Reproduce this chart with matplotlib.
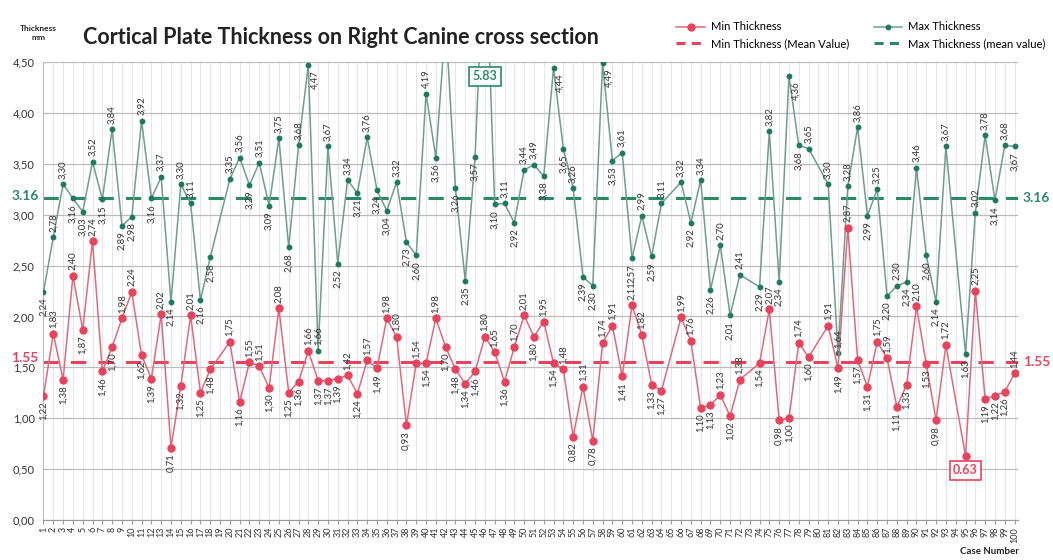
import numpy as np
import matplotlib
matplotlib.use("Agg")
import matplotlib.pyplot as plt
from matplotlib.ticker import FuncFormatter
from matplotlib.lines import Line2D

plt.rcParams['font.family'] = ['Lato', 'DejaVu Sans']

cases = list(range(1, 101))
N = None
# Min thickness (mm), None = no data for that case
min_thickness = [
    1.22, 1.83, 1.38, 2.40, 1.87, 2.74, 1.46, 1.70, 1.98, 2.24,
    1.62, 1.39, 2.02, 0.71, 1.32, 2.01, 1.25, 1.48, N, 1.75,
    1.16, 1.55, 1.51, 1.30, 2.08, 1.25, 1.36, 1.66, 1.37, 1.37,
    1.39, 1.42, 1.24, 1.57, 1.49, 1.98, 1.80, 0.93, 1.54, 1.54,
    1.98, 1.70, 1.48, 1.34, 1.46, 1.80, 1.65, 1.36, 1.70, 2.01,
    1.80, 1.95, 1.54, 1.48, 0.82, 1.31, 0.78, 1.74, 1.91, 1.41,
    2.11, 1.82, 1.33, 1.27, N, 1.99, 1.76, 1.10, 1.13, 1.23,
    1.02, 1.38, N, 1.54, 2.07, 0.98, 1.00, 1.74, 1.60, N,
    1.91, 1.49, 2.87, 1.57, 1.31, 1.75, 1.59, 1.11, 1.33, 2.10,
    1.53, 0.98, 1.72, N, 0.63, 2.25, 1.19, 1.22, 1.26, 1.44,
]
# Max thickness (mm)
max_thickness = [
    2.24, 2.78, 3.30, 3.16, 3.03, 3.52, 3.15, 3.84, 2.89, 2.98,
    3.92, 3.16, 3.37, 2.14, 3.30, 3.11, 2.16, 2.58, N, 3.35,
    3.56, 3.29, 3.51, 3.09, 3.75, 2.68, 3.68, 4.47, 1.66, 3.67,
    2.52, 3.34, 3.21, 3.76, 3.24, 3.04, 3.32, 2.73, 2.60, 4.19,
    3.56, 4.90, 3.26, 2.35, 3.57, 5.83, 3.10, 3.11, 2.92, 3.44,
    3.49, 3.38, 4.44, 3.65, 3.26, 2.39, 2.30, 4.49, 3.53, 3.61,
    2.57, 2.99, 2.59, 3.11, N, 3.32, 2.92, 3.34, 2.26, 2.70,
    2.01, 2.41, N, 2.29, 3.82, 2.34, 4.36, 3.68, 3.65, N,
    3.30, 1.64, 3.28, 3.86, 2.99, 3.25, 2.20, 2.30, 2.34, 3.46,
    2.60, 2.14, 3.67, N, 1.63, 3.02, 3.78, 3.14, 3.68, 3.67,
]
min_mean = 1.55
max_mean = 3.16
y_ticks = [0.0, 0.5, 1.0, 1.5, 2.0, 2.5, 3.0, 3.5, 4.0, 4.5]

RED = '#E8435E'
RED_LINE = '#DD6A7E'
GREEN = '#1E7A58'
GREEN_LINE = '#6E9E8C'
GREEN_DASH = '#2B8A66'

fig = plt.figure(figsize=(10.53, 5.6), dpi=100)
ax = fig.add_axes([43/1053, 40/560, (1018-43)/1053, (520-62)/560])

def valid(series):
    xs = [c for c, v in zip(cases, series) if v is not None]
    ys = [v for v in series if v is not None]
    return xs, ys

xmin, ymin = valid(min_thickness)
xmax, ymax = valid(max_thickness)

ax.plot(xmax, ymax, color=GREEN_LINE, lw=1.1, marker='o', ms=3.2,
        mfc=GREEN, mec=GREEN, zorder=3)
ax.plot(xmin, ymin, color=RED_LINE, lw=1.1, marker='o', ms=5.0,
        mfc=RED, mec=RED, zorder=4)
ax.axhline(max_mean, color=GREEN_DASH, lw=2.2, ls=(0, (5, 4)), zorder=2)
ax.axhline(min_mean, color=RED, lw=2.2, ls=(0, (5, 4)), zorder=2)

def fmt(v):
    return f"{v:.2f}".replace('.', ',')

lowest = min(ymin)
highest = max(ymax)

# label placement overrides (case -> above?) for crowded spots
max_label_above = {29: True, 82: True}
min_label_above = {}

def add_labels(series, overrides):
    for i, v in enumerate(series):
        if v is None or v > 4.5 or v == lowest:
            continue
        prev = next((series[j] for j in range(i-1, -1, -1) if series[j] is not None), v)
        nxt = next((series[j] for j in range(i+1, len(series)) if series[j] is not None), v)
        above = v >= (prev + nxt) / 2
        dx = 0
        if v > 4.3:
            above = False
            dx = 5
        above = overrides.get(cases[i], above)
        ax.annotate(fmt(v), (cases[i], v), xytext=(dx, 4 if above else -4),
                    textcoords='offset points', rotation=90, ha='center',
                    va='bottom' if above else 'top', fontsize=6.8,
                    color='#333333', zorder=6, annotation_clip=False,
                    family=['Liberation Sans Narrow', 'Lato', 'DejaVu Sans'])

add_labels(max_thickness, max_label_above)
add_labels(min_thickness, min_label_above)

ax.set_xlim(0.95, 100.35)
ax.set_ylim(0, 4.5)
ax.set_yticks(y_ticks)
ax.yaxis.set_major_formatter(FuncFormatter(lambda v, p: f"{v:.2f}".replace('.', ',')))
ax.set_xticks(cases)
ax.set_xticklabels([str(c) for c in cases], rotation=90, fontsize=6.5, color='#333333')
ax.tick_params(axis='y', labelsize=8, colors='#333333', length=0, pad=6)
ax.tick_params(axis='x', length=3, color='#999999', pad=2)
ax.grid(axis='y', color='#BBBBBB', lw=0.9)
ax.grid(axis='x', color='#E6E6E6', lw=0.7)
ax.set_axisbelow(True)
for s in ['top', 'right']:
    ax.spines[s].set_visible(False)
ax.spines['left'].set_color('#BBBBBB')
ax.spines['bottom'].set_color('#999999')

# mean value annotations
ax.annotate('3.16', (0, max_mean), xycoords=ax.get_yaxis_transform(),
            xytext=(-3, 2), textcoords='offset points', ha='right', va='center',
            color=GREEN_DASH, fontsize=10, fontweight='bold')
ax.annotate('1.55', (0, min_mean), xycoords=ax.get_yaxis_transform(),
            xytext=(-3, 3), textcoords='offset points', ha='right', va='center',
            color=RED, fontsize=10, fontweight='bold')
ax.text(1.005, max_mean, '3.16', transform=ax.get_yaxis_transform(), ha='left',
        va='center', color=GREEN_DASH, fontsize=10, fontweight='bold')
ax.text(1.005, min_mean, '1.55', transform=ax.get_yaxis_transform(), ha='left',
        va='center', color=RED, fontsize=10, fontweight='bold')

# callouts for extremes
ax.text(46, 4.36, fmt(highest).replace(',', '.'), ha='center', va='center', fontsize=9,
        color=GREEN_DASH, fontweight='bold',
        bbox=dict(fc='white', ec=GREEN_DASH, lw=1.2, pad=2.5), zorder=7)
ax.text(95, 0.49, fmt(lowest).replace(',', '.'), ha='center', va='center', fontsize=9,
        color=RED, fontweight='bold',
        bbox=dict(fc='white', ec=RED, lw=1.2, pad=2.5), zorder=7)

fig.text(83/1053, 1-37/560, 'Cortical Plate Thickness on Right Canine cross section',
         fontsize=15.5, fontweight='bold', va='center', ha='left', color='#222222')
fig.text(38/1053, 1-33/560, 'Thickness\nmm', fontsize=6, fontweight='bold',
         va='center', ha='center', color='#222222', linespacing=1.3)
fig.text(990/1053, 1-551/560, 'Case Number', fontsize=7, fontweight='bold',
         va='center', ha='center', color='#222222')

handles = [
    Line2D([], [], color=RED_LINE, lw=1.1, marker='o', ms=5, mfc=RED, mec=RED),
    Line2D([], [], color=RED, lw=2.2, ls=(0, (3, 2))),
    Line2D([], [], color=GREEN_LINE, lw=1.1, marker='o', ms=3.2, mfc=GREEN, mec=GREEN),
    Line2D([], [], color=GREEN_DASH, lw=2.2, ls=(0, (3, 2))),
]
labels = ['Min Thickness', 'Min Thickness (Mean Value)',
          'Max Thickness', 'Max Thickness (mean value)']
fig.legend(handles, labels, ncol=2, loc='upper left', bbox_to_anchor=(672/1053, 1-17/560),
           frameon=False, fontsize=8, handlelength=2.6, columnspacing=2.2,
           labelspacing=0.5, borderaxespad=0, handletextpad=0.5)

fig.savefig('out.png', dpi=100)
